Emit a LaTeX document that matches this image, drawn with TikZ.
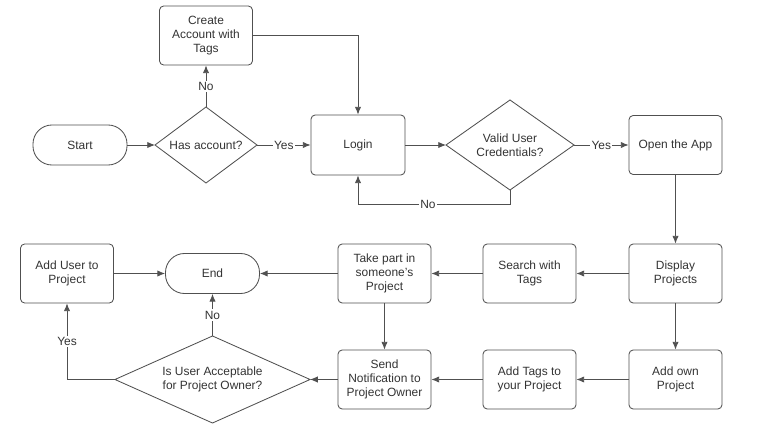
\documentclass[tikz,border=0pt]{standalone}
\usepackage{fontspec}
\setmainfont{Liberation Sans}
\usetikzlibrary{shapes.geometric,arrows.meta}
\definecolor{linegray}{HTML}{505050}
\definecolor{textgray}{HTML}{333333}
\begin{document}
\begin{tikzpicture}[x=0.025cm,y=-0.025cm,>={Latex[length=5.5pt,width=4.5pt]}]
  \tikzstyle{every node}=[font=\fontsize{8.5}{10}\selectfont,text=textgray,align=center]
  \tikzstyle{box}=[rectangle,draw=linegray,line width=0.6pt,rounded corners=3pt,
                   minimum width=2.325cm,minimum height=1.475cm]
  \tikzstyle{term}=[rectangle,draw=linegray,line width=0.6pt,rounded corners=13.5pt,
                    minimum width=2.35cm,minimum height=1cm]
  \tikzstyle{decision}=[diamond,draw=linegray,line width=0.6pt,inner sep=0pt,outer sep=0pt]
  \tikzstyle{flow}=[draw=linegray,line width=0.6pt,->]
  \tikzstyle{tag}=[fill=white,inner sep=1pt]
  \useasboundingbox (0,0) rectangle (772,426);
  % top row
  \node[term] (start) at (80,145) {Start};
  \node[decision,aspect=1.34,minimum width=2.55cm,minimum height=1.9cm] (hasacc) at (206,145) {Has account?};
  \node[box] (create) at (206,35.5) {Create\\Account with\\Tags};
  \node[box,minimum width=2.35cm,minimum height=1.5cm] (login) at (358,145) {Login};
  \node[decision,aspect=1.42,minimum width=3.2cm,minimum height=2.25cm] (valid) at (510,145) {Valid User\\Credentials?};
  \node[box] (open) at (675.5,145) {Open the App};
  % middle row
  \node[box] (display) at (675.5,273.5) {Display\\Projects};
  \node[box] (search) at (529.5,273.5) {Search with\\Tags};
  \node[box] (takepart) at (384.5,273.5) {Take part in\\someone's\\Project};
  \node[term] (end) at (212.5,273.5) {End};
  \node[box] (adduser) at (67,273.5) {Add User to\\Project};
  % bottom row
  \node[box] (addown) at (675.5,379.5) {Add own\\Project};
  \node[box] (addtags) at (529.5,379.5) {Add Tags to\\your Project};
  \node[box] (notify) at (384.5,379.5) {Send\\Notification to\\Project Owner};
  \node[decision,aspect=2.24,minimum width=4.875cm,minimum height=2.175cm] (accept) at (212.5,379.5) {Is User Acceptable\\for Project Owner?};
  \coordinate (loopno) at (510,204);
  % connectors
  \draw[flow] (start) -- (hasacc);
  \draw[flow] (hasacc) -- node[tag]{Yes} (login);
  \draw[flow] (hasacc) -- node[tag]{No} (create);
  \draw[flow] (create.east) -| (login.north);
  \draw[flow] (login) -- (valid);
  \draw[flow] (valid) -- node[tag]{Yes} (open);
  \draw[flow] (valid.south) -- (loopno) -| node[tag,pos=0.27]{No} (login.south);
  \draw[flow] (open) -- (display);
  \draw[flow] (display) -- (search);
  \draw[flow] (search) -- (takepart);
  \draw[flow] (takepart) -- (end);
  \draw[flow] (display) -- (addown);
  \draw[flow] (addown) -- (addtags);
  \draw[flow] (addtags) -- (notify);
  \draw[flow] (takepart) -- (notify);
  \draw[flow] (notify) -- (accept);
  \draw[flow] (accept) -- node[tag]{No} (end);
  \draw[flow] (accept.west) -| node[tag,pos=0.75]{Yes} (adduser.south);
  \draw[flow] (adduser) -- (end);
\end{tikzpicture}
\end{document}
